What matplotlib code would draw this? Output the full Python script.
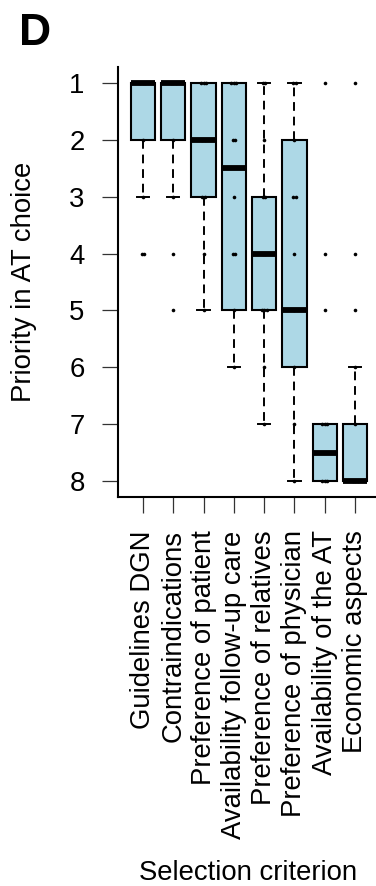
import numpy as np
import matplotlib
matplotlib.use("Agg")
import matplotlib.pyplot as plt

plt.rcParams['font.family'] = ['Liberation Sans', 'DejaVu Sans']

criteria = ["Guidelines DGN", "Contraindications", "Preference of patient",
            "Availability follow-up care", "Preference of relatives",
            "Preference of physician", "Availability of the AT", "Economic aspects"]

# box statistics (priority rank, 1 = highest)
q1 = [1, 1, 1, 1, 3, 2, 7, 7]
med = [1, 1, 2, 2.5, 4, 5, 7.5, 8]
q3 = [2, 2, 3, 5, 5, 6, 8, 8]
whis_lo = [1, 1, 1, 1, 1, 1, 7, 6]
whis_hi = [3, 3, 5, 6, 7, 8, 8, 8]

# individual answers drawn on top of the boxes
answers = [
    [1, 1, 1, 2, 3, 4, 4],
    [1, 1, 1, 2, 3, 4, 5],
    [1, 1, 1, 2, 2, 3, 3, 4, 5],
    [1, 1, 1, 2, 2, 3, 4, 4, 5, 6],
    [1, 1, 2, 3, 3, 4, 4, 5, 5, 5, 6, 7],
    [1, 1, 2, 3, 3, 4, 5, 6, 7, 8],
    [1, 4, 5, 7, 7, 7, 8, 8, 8],
    [1, 4, 5, 6, 7, 8, 8, 8],
]

W, H = 376, 886
fig = plt.figure(figsize=(W / 100, H / 100), dpi=100)
ax = fig.add_axes([118 / W, 1 - 497 / H, 262 / W, 430 / H])

stats = []
for i, name in enumerate(criteria):
    stats.append(dict(label=name, q1=q1[i], med=med[i], q3=q3[i],
                      whislo=whis_lo[i], whishi=whis_hi[i], fliers=[]))

pos = np.arange(1, len(criteria) + 1)
ax.bxp(stats, positions=pos, widths=0.8, capwidths=0.4, patch_artist=True,
       showfliers=False,
       boxprops=dict(facecolor='lightblue', edgecolor='black', linewidth=1.5),
       medianprops=dict(color='black', linewidth=4.2, solid_capstyle='butt'),
       whiskerprops=dict(color='black', linewidth=1.4, linestyle=(0, (4.5, 3))),
       capprops=dict(color='black', linewidth=1.4))

for i, vals in enumerate(answers):
    vals = np.array(vals)
    for v in np.unique(vals):
        n = int((vals == v).sum())
        offs = (np.arange(n) - (n - 1) / 2) * 0.08
        ax.plot(pos[i] + offs, [v] * n, 'o', color='black', ms=2.6,
                mew=0, zorder=5)

ax.set_xlim(0.18, 8.82)
ax.set_ylim(8.28, 0.72)
ax.set_yticks(range(1, 9))
ax.set_xticks(pos)
ax.set_xticklabels(criteria, rotation=90, ha='center', va='top')
ax.tick_params(axis='both', labelsize=19.8, length=11.5, width=0.9,
               color='#333333', pad=12.5)
for s in ['top', 'right']:
    ax.spines[s].set_visible(False)
for s in ['left', 'bottom']:
    ax.spines[s].set_linewidth(1.5)

fig.text(24 / W, 1 - 282 / H, "Priority in AT choice", rotation=90,
         ha='center', va='center', fontsize=19.8)
fig.text(248 / W, 1 - 880 / H, "Selection criterion", ha='center',
         va='baseline', fontsize=19.8)
fig.text(19 / W, 1 - 45 / H, "D", ha='left', va='baseline', fontsize=32,
         fontweight='bold')

fig.savefig("out.png", dpi=100)
